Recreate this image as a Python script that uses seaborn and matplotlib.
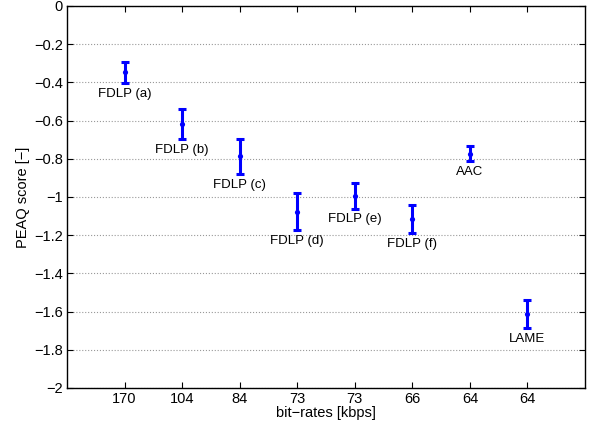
import matplotlib
matplotlib.use('agg')
import matplotlib.pyplot as plt
import numpy as np
import pandas as pd
import seaborn as sns

codecs = ['FDLP (a)', 'FDLP (b)', 'FDLP (c)', 'FDLP (d)', 'FDLP (e)', 'FDLP (f)', 'AAC', 'LAME']
bitrates = ['170', '104', '84', '73', '73', '66', '64', '64']
scores = [-0.348, -0.618, -0.788, -1.077, -0.995, -1.117, -0.773, -1.612]
errors = [0.057, 0.080, 0.092, 0.096, 0.066, 0.073, 0.038, 0.074]

df = pd.DataFrame({'pos': np.arange(1, len(codecs) + 1), 'score': scores,
                   'err': errors, 'codec': codecs})

sns.set_style('ticks')
plt.rcParams['font.family'] = ['Liberation Sans', 'DejaVu Sans']
plt.rcParams['axes.unicode_minus'] = True
plt.rcParams['text.color'] = 'black'

fig = plt.figure(figsize=(5.9, 4.28), dpi=100)
ax = fig.add_axes([0.1136, 0.0935, 0.878, 0.8925])

ax.errorbar(df['pos'], df['score'], yerr=df['err'], fmt='none', ecolor='#0000ff',
            elinewidth=2.2, capsize=2.6, capthick=2.2, zorder=3)
sns.scatterplot(data=df, x='pos', y='score', color='#0000ff', s=14, linewidth=0,
                ax=ax, zorder=4)

for _, r in df.iterrows():
    ax.annotate(r['codec'], (r['pos'], r['score'] - r['err']), xytext=(0, -3.5),
                textcoords='offset points', ha='center', va='top', fontsize=9.5,
                color='black')

ax.set_xlim(0, 9)
ax.set_ylim(-2, 0)
ax.set_xticks(df['pos'])
ax.set_xticklabels(bitrates)
yt = np.round(np.arange(-2, 0.01, 0.2), 1)
ax.set_yticks(yt)
ax.set_yticklabels(['0' if v == 0 else ('\u2212' + ('%g' % abs(v))) for v in yt])
ax.yaxis.grid(True, linestyle=':', color='#999999', linewidth=0.8)
ax.xaxis.grid(False)
ax.tick_params(direction='in', top=True, right=True, length=4, width=0.8,
               labelsize=10.5, colors='black', pad=3)
for s in ax.spines.values():
    s.set_linewidth(1.0)
    s.set_color('black')

ax.set_xlabel('bit\u2212rates [kbps]', fontsize=10.5, labelpad=0, color='black')
ax.set_ylabel('PEAQ score [\u2212]', fontsize=10.5, labelpad=3, color='black')

fig.savefig('out.png', dpi=100)
